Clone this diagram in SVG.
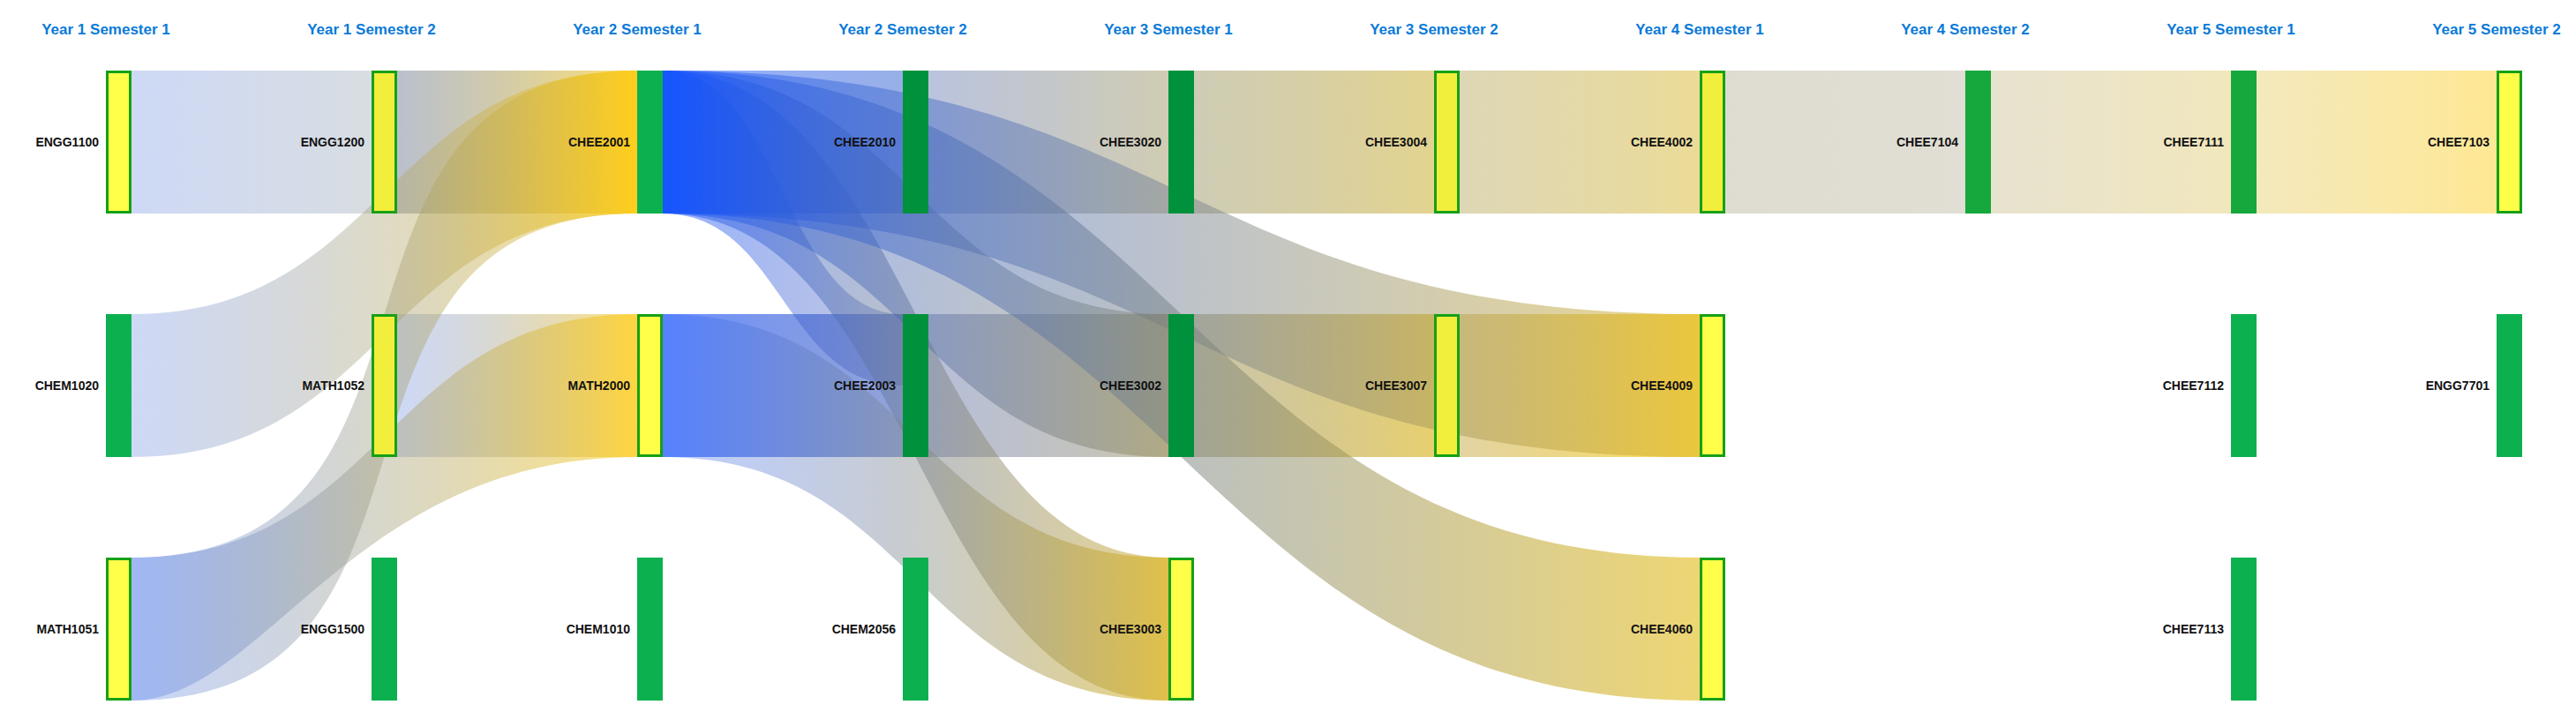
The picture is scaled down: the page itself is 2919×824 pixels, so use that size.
<svg xmlns="http://www.w3.org/2000/svg" width="2919" height="824" viewBox="0 0 2919 824">
<style>
.hd{font-family:"Liberation Sans",Arial,sans-serif;font-size:17px;font-weight:bold;fill:#0a7ad8;text-anchor:middle}
.lb{font-family:"Liberation Sans",Arial,sans-serif;font-size:14px;font-weight:bold;fill:#111;text-anchor:end}
.ny{fill:#ffff4a;stroke:#16a016;stroke-width:3}
.ny2{fill:#f2ee3c;stroke:#16a016;stroke-width:3}
.ng{fill:#0db04f}
.nd{fill:#00913c}
.nm{fill:#16a83c}
.lk{stroke:none}
</style>
<defs>
<linearGradient id="g1" gradientUnits="userSpaceOnUse" x1="149" y1="0" x2="421" y2="0"><stop offset="0" stop-color="#5a7fe0" stop-opacity="0.3"/><stop offset="1" stop-color="#7d8e9e" stop-opacity="0.3"/></linearGradient>
<linearGradient id="g2" gradientUnits="userSpaceOnUse" x1="450" y1="0" x2="722" y2="0"><stop offset="0" stop-color="#5a6a88" stop-opacity="0.42"/><stop offset="1" stop-color="#ffc800" stop-opacity="0.55"/></linearGradient>
<linearGradient id="g3" gradientUnits="userSpaceOnUse" x1="751" y1="0" x2="1023" y2="0"><stop offset="0" stop-color="#1050ff" stop-opacity="0.45"/><stop offset="1" stop-color="#3060d0" stop-opacity="0.5"/></linearGradient>
<linearGradient id="g4" gradientUnits="userSpaceOnUse" x1="1052" y1="0" x2="1324" y2="0"><stop offset="0" stop-color="#3a55a0" stop-opacity="0.35"/><stop offset="1" stop-color="#8a8040" stop-opacity="0.4"/></linearGradient>
<linearGradient id="g5" gradientUnits="userSpaceOnUse" x1="1353" y1="0" x2="1625" y2="0"><stop offset="0" stop-color="#8a8650" stop-opacity="0.42"/><stop offset="1" stop-color="#c8a820" stop-opacity="0.5"/></linearGradient>
<linearGradient id="g6" gradientUnits="userSpaceOnUse" x1="1654" y1="0" x2="1926" y2="0"><stop offset="0" stop-color="#b0a050" stop-opacity="0.42"/><stop offset="1" stop-color="#d8b830" stop-opacity="0.5"/></linearGradient>
<linearGradient id="g7" gradientUnits="userSpaceOnUse" x1="1955" y1="0" x2="2227" y2="0"><stop offset="0" stop-color="#9a9070" stop-opacity="0.32"/><stop offset="1" stop-color="#9a9070" stop-opacity="0.3"/></linearGradient>
<linearGradient id="g8" gradientUnits="userSpaceOnUse" x1="2256" y1="0" x2="2528" y2="0"><stop offset="0" stop-color="#b0a060" stop-opacity="0.3"/><stop offset="1" stop-color="#d8bc40" stop-opacity="0.35"/></linearGradient>
<linearGradient id="g9" gradientUnits="userSpaceOnUse" x1="2557" y1="0" x2="2829" y2="0"><stop offset="0" stop-color="#e0c040" stop-opacity="0.35"/><stop offset="1" stop-color="#ffcc10" stop-opacity="0.45"/></linearGradient>
<linearGradient id="g10" gradientUnits="userSpaceOnUse" x1="450" y1="0" x2="722" y2="0"><stop offset="0" stop-color="#5a7fe0" stop-opacity="0.3"/><stop offset="1" stop-color="#ffc400" stop-opacity="0.5"/></linearGradient>
<linearGradient id="g11" gradientUnits="userSpaceOnUse" x1="751" y1="0" x2="1023" y2="0"><stop offset="0" stop-color="#2a60ff" stop-opacity="0.7"/><stop offset="1" stop-color="#3858b8" stop-opacity="0.55"/></linearGradient>
<linearGradient id="g12" gradientUnits="userSpaceOnUse" x1="1052" y1="0" x2="1324" y2="0"><stop offset="0" stop-color="#4a5ea0" stop-opacity="0.4"/><stop offset="1" stop-color="#8a8048" stop-opacity="0.45"/></linearGradient>
<linearGradient id="g13" gradientUnits="userSpaceOnUse" x1="1353" y1="0" x2="1625" y2="0"><stop offset="0" stop-color="#8a8048" stop-opacity="0.45"/><stop offset="1" stop-color="#d8b010" stop-opacity="0.6"/></linearGradient>
<linearGradient id="g14" gradientUnits="userSpaceOnUse" x1="1654" y1="0" x2="1926" y2="0"><stop offset="0" stop-color="#c0a030" stop-opacity="0.45"/><stop offset="1" stop-color="#ffcc00" stop-opacity="0.65"/></linearGradient>
<linearGradient id="g15" gradientUnits="userSpaceOnUse" x1="149" y1="0" x2="722" y2="0"><stop offset="0" stop-color="#5a7fe0" stop-opacity="0.3"/><stop offset="1" stop-color="#ffc800" stop-opacity="0.5"/></linearGradient>
<linearGradient id="g16" gradientUnits="userSpaceOnUse" x1="149" y1="0" x2="722" y2="0"><stop offset="0" stop-color="#3a6ae8" stop-opacity="0.28"/><stop offset="1" stop-color="#ffc800" stop-opacity="0.5"/></linearGradient>
<linearGradient id="g17" gradientUnits="userSpaceOnUse" x1="149" y1="0" x2="722" y2="0"><stop offset="0" stop-color="#3a6ae8" stop-opacity="0.28"/><stop offset="1" stop-color="#ffc800" stop-opacity="0.5"/></linearGradient>
<linearGradient id="g18" gradientUnits="userSpaceOnUse" x1="751" y1="0" x2="1023" y2="0"><stop offset="0" stop-color="#1050ff" stop-opacity="0.45"/><stop offset="1" stop-color="#5060a8" stop-opacity="0.35"/></linearGradient>
<linearGradient id="g19" gradientUnits="userSpaceOnUse" x1="751" y1="0" x2="1324" y2="0"><stop offset="0" stop-color="#1050ff" stop-opacity="0.45"/><stop offset="1" stop-color="#d0a820" stop-opacity="0.5"/></linearGradient>
<linearGradient id="g20" gradientUnits="userSpaceOnUse" x1="751" y1="0" x2="1926" y2="0"><stop offset="0" stop-color="#1050ff" stop-opacity="0.45"/><stop offset="1" stop-color="#d8b020" stop-opacity="0.5"/></linearGradient>
<linearGradient id="g21" gradientUnits="userSpaceOnUse" x1="751" y1="0" x2="1324" y2="0"><stop offset="0" stop-color="#2a60ff" stop-opacity="0.3"/><stop offset="1" stop-color="#d8b010" stop-opacity="0.55"/></linearGradient>
<linearGradient id="g22" gradientUnits="userSpaceOnUse" x1="751" y1="0" x2="1324" y2="0"><stop offset="0" stop-color="#1050ff" stop-opacity="0.45"/><stop offset="1" stop-color="#8a8048" stop-opacity="0.4"/></linearGradient>
<linearGradient id="g23" gradientUnits="userSpaceOnUse" x1="751" y1="0" x2="1926" y2="0"><stop offset="0" stop-color="#1050ff" stop-opacity="0.45"/><stop offset="1" stop-color="#e0b400" stop-opacity="0.55"/></linearGradient>
</defs>
<rect width="2919" height="824" fill="#fff"/>
<g id="headers">
<text class="hd" x="120" y="39">Year 1 Semester 1</text>
<text class="hd" x="421" y="39">Year 1 Semester 2</text>
<text class="hd" x="722" y="39">Year 2 Semester 1</text>
<text class="hd" x="1023" y="39">Year 2 Semester 2</text>
<text class="hd" x="1324" y="39">Year 3 Semester 1</text>
<text class="hd" x="1625" y="39">Year 3 Semester 2</text>
<text class="hd" x="1926" y="39">Year 4 Semester 1</text>
<text class="hd" x="2227" y="39">Year 4 Semester 2</text>
<text class="hd" x="2528" y="39">Year 5 Semester 1</text>
<text class="hd" x="2829" y="39">Year 5 Semester 2</text>
</g>
<g id="connectors">
<path class="lk" fill="url(#g1)" d="M149 80H421V242H149Z"/>
<path class="lk" fill="url(#g2)" d="M450 80H722V242H450Z"/>
<path class="lk" fill="url(#g3)" d="M751 80H1023V242H751Z"/>
<path class="lk" fill="url(#g4)" d="M1052 80H1324V242H1052Z"/>
<path class="lk" fill="url(#g5)" d="M1353 80H1625V242H1353Z"/>
<path class="lk" fill="url(#g6)" d="M1654 80H1926V242H1654Z"/>
<path class="lk" fill="url(#g7)" d="M1955 80H2227V242H1955Z"/>
<path class="lk" fill="url(#g8)" d="M2256 80H2528V242H2256Z"/>
<path class="lk" fill="url(#g9)" d="M2557 80H2829V242H2557Z"/>
<path class="lk" fill="url(#g10)" d="M450 356H722V518H450Z"/>
<path class="lk" fill="url(#g11)" d="M751 356H1023V518H751Z"/>
<path class="lk" fill="url(#g12)" d="M1052 356H1324V518H1052Z"/>
<path class="lk" fill="url(#g13)" d="M1353 356H1625V518H1353Z"/>
<path class="lk" fill="url(#g14)" d="M1654 356H1926V518H1654Z"/>
<path class="lk" fill="url(#g15)" d="M149 356C435.5 356 435.5 80 722 80V242C435.5 242 435.5 518 149 518Z"/>
<path class="lk" fill="url(#g16)" d="M149 632C550 632 321 80 722 80V242C321 242 550 794 149 794Z"/>
<path class="lk" fill="url(#g17)" d="M149 632C435.5 632 435.5 356 722 356V518C400 518 300 794 149 794Z"/>
<path class="lk" fill="url(#g18)" d="M751 80C887 80 887 356 1023 356V437C887 437 887 242 751 242Z"/>
<path class="lk" fill="url(#g19)" d="M751 80C1037.5 80 1037.5 632 1324 632V794C1037.5 794 1037.5 242 751 242Z"/>
<path class="lk" fill="url(#g20)" d="M751 80C1338.5 80 1338.5 356 1926 356V518C1338.5 518 1338.5 242 751 242Z"/>
<path class="lk" fill="url(#g21)" d="M751 356C1037.5 356 1037.5 632 1324 632V794C1037.5 794 1037.5 518 751 518Z"/>
<path class="lk" fill="url(#g22)" d="M751 80C1037.5 80 1037.5 356 1324 356V518C1037.5 518 1037.5 242 751 242Z"/>
<path class="lk" fill="url(#g23)" d="M751 80C1338.5 80 1338.5 632 1926 632V794C1338.5 794 1338.5 242 751 242Z"/>
</g>
<g id="node-ENGG1100"><rect class="ny" x="121.5" y="81.5" width="26" height="159"/></g>
<g id="node-ENGG1200"><rect class="ny2" x="422.5" y="81.5" width="26" height="159"/></g>
<g id="node-CHEE2001"><rect class="ng" x="722" y="80" width="29" height="162"/></g>
<g id="node-CHEE2010"><rect class="nd" x="1023" y="80" width="29" height="162"/></g>
<g id="node-CHEE3020"><rect class="nd" x="1324" y="80" width="29" height="162"/></g>
<g id="node-CHEE3004"><rect class="ny2" x="1626.5" y="81.5" width="26" height="159"/></g>
<g id="node-CHEE4002"><rect class="ny2" x="1927.5" y="81.5" width="26" height="159"/></g>
<g id="node-CHEE7104"><rect class="nm" x="2227" y="80" width="29" height="162"/></g>
<g id="node-CHEE7111"><rect class="nm" x="2528" y="80" width="29" height="162"/></g>
<g id="node-CHEE7103"><rect class="ny" x="2830.5" y="81.5" width="26" height="159"/></g>
<g id="node-CHEM1020"><rect class="ng" x="120" y="356" width="29" height="162"/></g>
<g id="node-MATH1052"><rect class="ny2" x="422.5" y="357.5" width="26" height="159"/></g>
<g id="node-MATH2000"><rect class="ny" x="723.5" y="357.5" width="26" height="159"/></g>
<g id="node-CHEE2003"><rect class="nd" x="1023" y="356" width="29" height="162"/></g>
<g id="node-CHEE3002"><rect class="nd" x="1324" y="356" width="29" height="162"/></g>
<g id="node-CHEE3007"><rect class="ny2" x="1626.5" y="357.5" width="26" height="159"/></g>
<g id="node-CHEE4009"><rect class="ny" x="1927.5" y="357.5" width="26" height="159"/></g>
<g id="node-CHEE7112"><rect class="ng" x="2528" y="356" width="29" height="162"/></g>
<g id="node-ENGG7701"><rect class="ng" x="2829" y="356" width="29" height="162"/></g>
<g id="node-MATH1051"><rect class="ny" x="121.5" y="633.5" width="26" height="159"/></g>
<g id="node-ENGG1500"><rect class="ng" x="421" y="632" width="29" height="162"/></g>
<g id="node-CHEM1010"><rect class="ng" x="722" y="632" width="29" height="162"/></g>
<g id="node-CHEM2056"><rect class="ng" x="1023" y="632" width="29" height="162"/></g>
<g id="node-CHEE3003"><rect class="ny" x="1325.5" y="633.5" width="26" height="159"/></g>
<g id="node-CHEE4060"><rect class="ny" x="1927.5" y="633.5" width="26" height="159"/></g>
<g id="node-CHEE7113"><rect class="ng" x="2528" y="632" width="29" height="162"/></g>
<g id="labels">
<text class="lb" x="112" y="166">ENGG1100</text>
<text class="lb" x="413" y="166">ENGG1200</text>
<text class="lb" x="714" y="166">CHEE2001</text>
<text class="lb" x="1015" y="166">CHEE2010</text>
<text class="lb" x="1316" y="166">CHEE3020</text>
<text class="lb" x="1617" y="166">CHEE3004</text>
<text class="lb" x="1918" y="166">CHEE4002</text>
<text class="lb" x="2219" y="166">CHEE7104</text>
<text class="lb" x="2520" y="166">CHEE7111</text>
<text class="lb" x="2821" y="166">CHEE7103</text>
<text class="lb" x="112" y="442">CHEM1020</text>
<text class="lb" x="413" y="442">MATH1052</text>
<text class="lb" x="714" y="442">MATH2000</text>
<text class="lb" x="1015" y="442">CHEE2003</text>
<text class="lb" x="1316" y="442">CHEE3002</text>
<text class="lb" x="1617" y="442">CHEE3007</text>
<text class="lb" x="1918" y="442">CHEE4009</text>
<text class="lb" x="2520" y="442">CHEE7112</text>
<text class="lb" x="2821" y="442">ENGG7701</text>
<text class="lb" x="112" y="718">MATH1051</text>
<text class="lb" x="413" y="718">ENGG1500</text>
<text class="lb" x="714" y="718">CHEM1010</text>
<text class="lb" x="1015" y="718">CHEM2056</text>
<text class="lb" x="1316" y="718">CHEE3003</text>
<text class="lb" x="1918" y="718">CHEE4060</text>
<text class="lb" x="2520" y="718">CHEE7113</text>
</g>
</svg>
